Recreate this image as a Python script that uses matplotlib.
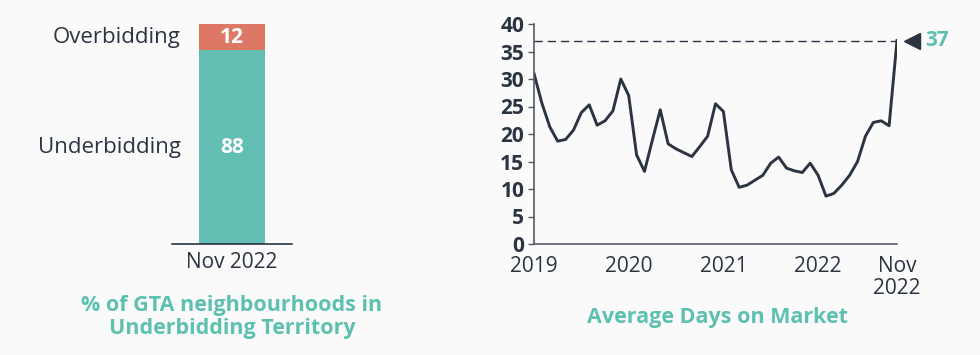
import matplotlib
matplotlib.use("Agg")
import matplotlib.pyplot as plt
from matplotlib.transforms import ScaledTranslation

# ---- data ----
bar_category = ["Nov 2022"]
underbidding = [88]
overbidding = [12]
segment_labels = ["Underbidding", "Overbidding"]

months = list(range(47))  # Jan 2019 .. Nov 2022
days_on_market = [
    31.0, 25.6, 21.3, 18.7, 19.0, 20.7, 23.9, 25.3, 21.6, 22.4, 24.2, 30.0,
    27.0, 16.2, 13.2, 18.9, 24.4, 18.2, 17.3, 16.6, 15.9, 17.7, 19.6, 25.5,
    24.1, 13.5, 10.3, 10.7, 11.6, 12.5, 14.7, 15.8, 13.8, 13.3, 13.0, 14.7,
    12.5, 8.7, 9.2, 10.7, 12.5, 15.0, 19.6, 22.1, 22.4, 21.5, 37.0,
]
xtick_pos = [0, 12, 24, 36, 46]
xtick_labels = ["2019", "2020", "2021", "2022", "Nov\n2022"]
ytick_vals = [0, 5, 10, 15, 20, 25, 30, 35, 40]
last_value_label = "37"

TEAL = "#63BFB4"
SALMON = "#DE7866"
DARK = "#2B3441"
TITLE_TEAL = "#5EC0AF"
plt.rcParams['font.family'] = ['Open Sans', 'DejaVu Sans']

W, H = 980, 355
fig = plt.figure(figsize=(W / 100, H / 100), dpi=100)
fig.patch.set_facecolor("#FAFAFB")

def ax_rect(x0, y0, x1, y1):
    return [x0 / W, 1 - y1 / H, (x1 - x0) / W, (y1 - y0) / H]

# ---- left: stacked bar ----
axL = fig.add_axes(ax_rect(172, 24, 292, 244))
axL.set_facecolor("none")
axL.bar(bar_category, underbidding, width=1.0, color=TEAL)
axL.bar(bar_category, overbidding, bottom=underbidding, width=1.0, color=SALMON)
axL.set_xlim(-0.9, 0.9)
axL.set_ylim(0, 100)
for s in ["top", "right", "left"]:
    axL.spines[s].set_visible(False)
axL.spines["bottom"].set_color(DARK)
axL.spines["bottom"].set_linewidth(1.2)
axL.set_yticks([])
axL.tick_params(axis="x", length=0, pad=6, labelsize=15, labelcolor=DARK)
axL.text(0, underbidding[0] / 2, str(underbidding[0]), ha="center", va="center",
         color="white", fontsize=15, fontweight="bold")
axL.text(0, underbidding[0] + overbidding[0] / 2, str(overbidding[0]), ha="center",
         va="center", color="white", fontsize=15, fontweight="bold")
axL.text(-0.77, underbidding[0] / 2, segment_labels[0], ha="right", va="center",
         color=DARK, fontsize=16)
axL.text(-0.77, underbidding[0] + overbidding[0] / 2, segment_labels[1], ha="right",
         va="center", color=DARK, fontsize=16)

fig.text(232 / W, 1 - 317 / H, "% of GTA neighbourhoods in\nUnderbidding Territory",
         ha="center", va="center", color=TITLE_TEAL, fontsize=15.5, fontweight="bold",
         linespacing=1.1)

# ---- right: line chart ----
axR = fig.add_axes(ax_rect(534, 24, 897, 244))
axR.set_facecolor("none")
axR.plot(months, days_on_market, color=DARK, linewidth=2.1, solid_joinstyle="round")
axR.axhline(days_on_market[-1], color=DARK, linestyle=(0, (6, 3.5)), linewidth=1.0,
            xmin=0, xmax=1)
axR.set_xlim(0, 46)
axR.set_ylim(0, 40)
for s in ["top", "right"]:
    axR.spines[s].set_visible(False)
for s in ["left", "bottom"]:
    axR.spines[s].set_color("#555B66")
    axR.spines[s].set_linewidth(1.2)
axR.set_yticks(ytick_vals)
axR.set_yticklabels([str(v) for v in ytick_vals], fontweight="bold")
axR.set_xticks(xtick_pos)
axR.set_xticklabels(xtick_labels, linespacing=1.0)
axR.tick_params(axis="y", length=4, width=1.0, color="#555B66", pad=3,
                labelsize=15, labelcolor=DARK)
axR.tick_params(axis="x", length=0, pad=9, labelsize=15, labelcolor=DARK)

off = ScaledTranslation(0.15, 0, fig.dpi_scale_trans)
axR.plot([months[-1]], [days_on_market[-1]], marker="<", markersize=12, color=DARK,
         clip_on=False, transform=axR.transData + off)
off2 = ScaledTranslation(0.28, 0, fig.dpi_scale_trans)
axR.text(months[-1], days_on_market[-1], last_value_label, ha="left", va="center",
         color=TITLE_TEAL, fontsize=15, fontweight="bold",
         transform=axR.transData + off2)

fig.text(717 / W, 1 - 318 / H, "Average Days on Market", ha="center", va="center",
         color=TITLE_TEAL, fontsize=15.5, fontweight="bold")

fig.savefig("out.png", dpi=100, facecolor=fig.get_facecolor())
